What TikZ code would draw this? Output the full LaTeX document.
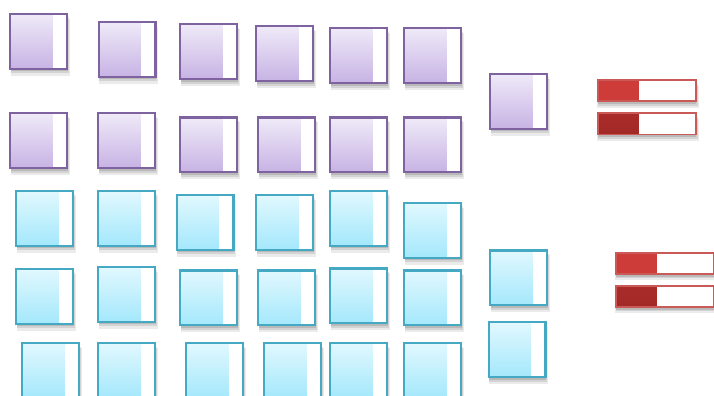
\documentclass[tikz,border=0pt]{standalone}
\usepackage{xcolor}
\usepackage{tikz}
\usetikzlibrary{shadows}
\definecolor{violetedge}{HTML}{7F63A1}
\definecolor{violettop}{HTML}{EFEAF8}
\definecolor{violetbot}{HTML}{C7B3E4}
\definecolor{aquaedge}{HTML}{45A9C4}
\definecolor{aquatop}{HTML}{E1F8FE}
\definecolor{aquabot}{HTML}{A4E8FC}
\definecolor{baredge}{HTML}{C95A57}
\definecolor{barred}{HTML}{CD3C39}
\definecolor{bardark}{HTML}{A22927}

\tikzset{
  softshade/.style={
    drop shadow={shadow xshift=0.2mm, shadow yshift=-0.8mm, opacity=0.12, fill=black},
    drop shadow={shadow xshift=0.3mm, shadow yshift=-1.2mm, opacity=0.10, fill=black, shadow scale=1.02},
    drop shadow={shadow xshift=0.4mm, shadow yshift=-1.7mm, opacity=0.08, fill=black, shadow scale=1.04}},
  tile/.style={draw, line width=0.65mm, minimum width=17.05mm, minimum height=16.45mm, inner sep=0pt, softshade,
    path picture={\fill[white] ([xshift=-4.3mm]path picture bounding box.north east) rectangle (path picture bounding box.south east);}},
  ptile/.style={tile, draw=violetedge, top color=violettop, bottom color=violetbot},
  ctile/.style={tile, draw=aquaedge, top color=aquatop, bottom color=aquabot},
  meter/.style={draw=baredge, line width=0.55mm, fill=white, minimum width=29.45mm, minimum height=6.35mm, inner sep=0pt, softshade},
  meterhi/.style={meter, path picture={\fill[barred] (path picture bounding box.north west) rectangle ([xshift=12.3mm]path picture bounding box.south west);}},
  meterlo/.style={meter, path picture={\shade[top color=bardark!85!barred, bottom color=bardark] (path picture bounding box.north west) rectangle ([xshift=12.3mm]path picture bounding box.south west);}},
}

\begin{document}
\begin{tikzpicture}[x=0.3mm, y=-0.3mm]
  \useasboundingbox (0,0) rectangle (714,396);

  % purple tiles
  \foreach \n/\x/\y in {p1/38.8/41.3, p2/127/49.2, p3/208.8/51.5, p4/284.8/53.5, p5/358.8/55.5, p6/432.8/55.5,
                        q1/38.8/140.8, q2/126.8/140.8, q3/208.8/145, q4/286.8/145, q5/358.8/145, q6/432.8/145,
                        pr/518.8/101.3}
    \node[ptile] (\n) at (\x,\y) {};

  % aqua tiles
  \foreach \n/\x/\y in {c1/44.8/218.3, c2/126.8/218.3, c3/205/222.3, c4/284.8/222.3, c5/358.8/218.3, c6/432.8/230.3,
                        d1/44.8/296.2, d2/126.8/294.2, d3/208.8/298, d4/286.8/298, d5/358.8/296, d6/432.8/298,
                        e1/50.8/370.5, e2/126.8/370.5, e3/214.8/370.5, e4/292.8/370.5, e5/358.8/370.5, e6/432.8/370.5,
                        cr1/518.8/278, cr2/517/349.8}
    \node[ctile] (\n) at (\x,\y) {};

  % red meters
  \node[meterhi] (m1) at (646.7,90.7) {};
  \node[meterlo] (m2) at (646.7,124) {};
  \node[meterhi] (m3) at (664.7,263.3) {};
  \node[meterlo] (m4) at (664.7,296.3) {};
\end{tikzpicture}
\end{document}
